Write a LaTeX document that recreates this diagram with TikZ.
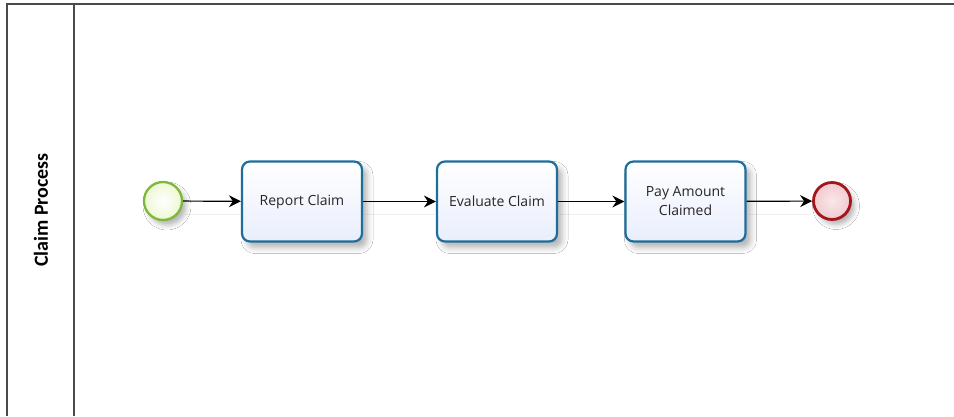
\documentclass[tikz,border=0pt]{standalone}
\usepackage{fontspec}
\setmainfont{Open Sans}
\newfontfamily\lanefont{Carlito}
\usetikzlibrary{shadows.blur,arrows.meta}
\definecolor{poolgray}{HTML}{4A4A4A}
\definecolor{taskblue}{HTML}{1E6E9C}
\definecolor{taskfill}{HTML}{E9EEFD}
\definecolor{startgreen}{HTML}{7DB83A}
\definecolor{startfill}{HTML}{EEF8D2}
\definecolor{endred}{HTML}{A3161C}
\definecolor{endfill}{HTML}{F2CACF}
\tikzset{
  pool/.style={draw=poolgray, line width=1.4pt},
  task/.style={draw=taskblue, line width=2.2pt, rounded corners=8pt,
    top color=white, bottom color=taskfill,
    minimum width=120pt, minimum height=80pt, align=center,
    font=\fontsize{14pt}{19pt}\selectfont, text=black!85,
    blur shadow={shadow xshift=5pt, shadow yshift=-6pt, shadow blur radius=6pt, shadow opacity=30}},
  startev/.style={circle, draw=startgreen, line width=2.3pt, inner color=white, outer color=startfill,
    minimum size=38pt, inner sep=0pt,
    blur shadow={shadow xshift=4pt, shadow yshift=-5pt, shadow blur radius=5pt, shadow opacity=30}},
  endev/.style={circle, draw=endred, line width=2.8pt, inner color=endfill!45, outer color=endfill,
    minimum size=37pt, inner sep=0pt,
    blur shadow={shadow xshift=4pt, shadow yshift=-5pt, shadow blur radius=5pt, shadow opacity=30}},
  flow/.style={draw=black, line width=1.2pt, -{Stealth[length=12pt,width=12pt,inset=4pt]}},
  flowshade/.style={draw=black!6, line width=1pt},
}
\begin{document}
\begin{tikzpicture}[x=1pt,y=-1pt]
  \useasboundingbox (0,0) rectangle (954,416);
  \fill[white] (0,0) rectangle (954,416);
  % pool frame and lane header
  \draw[pool] (954,4) -- (7,4) -- (7,416);
  \draw[pool] (74,4) -- (74,416);
  \node[rotate=90, font=\lanefont\bfseries\fontsize{20pt}{24pt}\selectfont] (lane) at (41,210) {Claim Process};
  % faint connector shadows
  \draw[flowshade] (185,214) -- (240,214);
  \draw[flowshade] (365,214) -- (435,214);
  \draw[flowshade] (560,214) -- (624,214);
  \draw[flowshade] (748,214) -- (811,214);
  % events and tasks
  \node[startev] (start) at (163,201) {};
  \node[task] (report) at (302,201.5) {Report Claim};
  \node[task] (evaluate) at (497,201.5) {Evaluate Claim};
  \node[task] (pay) at (685.5,201.5) {Pay Amount\\Claimed};
  \node[endev] (end) at (832,201) {};
  % sequence flows
  \draw[flow] (start) -- (report);
  \draw[flow] (report) -- (evaluate);
  \draw[flow] (evaluate) -- (pay);
  \draw[flow] (pay) -- (end);
\end{tikzpicture}
\end{document}
